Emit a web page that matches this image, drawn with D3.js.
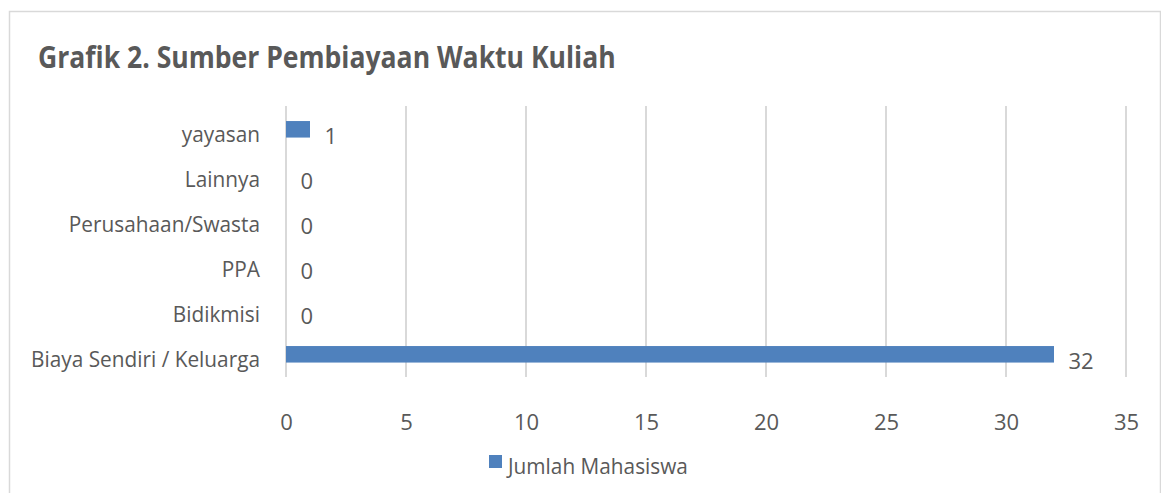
<!DOCTYPE html>
<html>
<head>
<meta charset="utf-8">
<script src="https://cdn.jsdelivr.net/npm/d3@7"></script>
<style>
  html, body { margin: 0; padding: 0; background: #ffffff; }
  svg { display: block; }
  text { font-family: "Open Sans", "Noto Sans", sans-serif; fill: #595959; }
</style>
</head>
<body>
<svg id="chart" width="1161" height="493"></svg>
<script>
// ---- data ----
const title = "Grafik 2. Sumber Pembiayaan Waktu Kuliah";
const categories = ["yayasan", "Lainnya", "Perusahaan/Swasta", "PPA", "Bidikmisi", "Biaya Sendiri / Keluarga"];
const values = [1, 0, 0, 0, 0, 32];
const seriesName = "Jumlah Mahasiswa";
const xTicks = [0, 5, 10, 15, 20, 25, 30, 35];

// ---- layout ----
const W = 1161, H = 493;
const svg = d3.select("#chart");
const plot = { left: 286, right: 1126, top: 106.8, bottom: 376.8 };
const barColor = "#4F81BD";
const gridColor = "#D9D9D9";

// border
svg.append("rect")
  .attr("x", 9.5).attr("y", 11.5)
  .attr("width", W - 10).attr("height", H + 20)
  .attr("fill", "none").attr("stroke", gridColor).attr("stroke-width", 1.5);

const x = d3.scaleLinear().domain([0, 35]).range([plot.left, plot.right]);
const y = d3.scaleBand().domain(categories).range([plot.top, plot.bottom])
  .paddingInner(0.633).paddingOuter(0.3165);

// helper: horizontal fit scale for a font
function measure(str, size, weight) {
  const t = svg.append("text").attr("font-size", size).attr("font-weight", weight || "normal").text(str);
  const w = t.node().getComputedTextLength();
  t.remove();
  return w;
}
const labelSize = 22;
const labelSx = 229 / measure("Biaya Sendiri / Keluarga", labelSize);
const titleSize = 30;
const titleSx = 578 / measure(title, titleSize, "bold");
const digitSx = 1.0;

// gridlines
svg.append("g").selectAll("line").data(xTicks).join("line")
  .attr("x1", d => x(d)).attr("x2", d => x(d))
  .attr("y1", 106).attr("y2", 377)
  .attr("stroke", gridColor).attr("stroke-width", 2);

// x tick labels via d3 axis (text only)
const xAxis = d3.axisBottom(x).tickValues(xTicks).tickSize(0).tickPadding(0).tickFormat(d3.format("d"));
const gx = svg.append("g").attr("transform", "translate(0,0)").call(xAxis);
gx.select(".domain").remove();
gx.selectAll(".tick line").remove();
gx.selectAll(".tick text")
  .attr("y", null).attr("dy", null)
  .attr("font-size", labelSize)
  .attr("font-family", "Open Sans, Noto Sans, sans-serif")
  .attr("fill", "#595959")
  .attr("text-anchor", "middle")
  .attr("transform", `translate(0,430) scale(${digitSx},1)`);

// bars
svg.append("g").selectAll("rect").data(categories).join("rect")
  .attr("x", x(0))
  .attr("y", d => y(d))
  .attr("width", (d, i) => x(values[i]) - x(0))
  .attr("height", y.bandwidth())
  .attr("fill", barColor);

// category labels
svg.append("g").selectAll("text").data(categories).join("text")
  .attr("text-anchor", "end")
  .attr("font-size", labelSize)
  .attr("transform", d => `translate(260,${y(d) + y.bandwidth() / 2 + 13}) scale(${labelSx},1)`)
  .text(d => d);

// value labels
svg.append("g").selectAll("text").data(categories).join("text")
  .attr("text-anchor", "start")
  .attr("font-size", labelSize)
  .attr("transform", (d, i) => `translate(${x(values[i]) + 14.5},${y(d) + y.bandwidth() / 2 + 14.5}) scale(${digitSx},1)`)
  .text((d, i) => values[i]);

// title
svg.append("text")
  .attr("font-size", titleSize)
  .attr("font-weight", "bold")
  .attr("transform", `translate(38,68) scale(${titleSx},1)`)
  .text(title);

// legend
svg.append("rect").attr("x", 489).attr("y", 455).attr("width", 13).attr("height", 13).attr("fill", barColor);
svg.append("text")
  .attr("font-size", labelSize)
  .attr("transform", `translate(508,474) scale(${labelSx},1)`)
  .text(seriesName);
</script>
</body>
</html>
